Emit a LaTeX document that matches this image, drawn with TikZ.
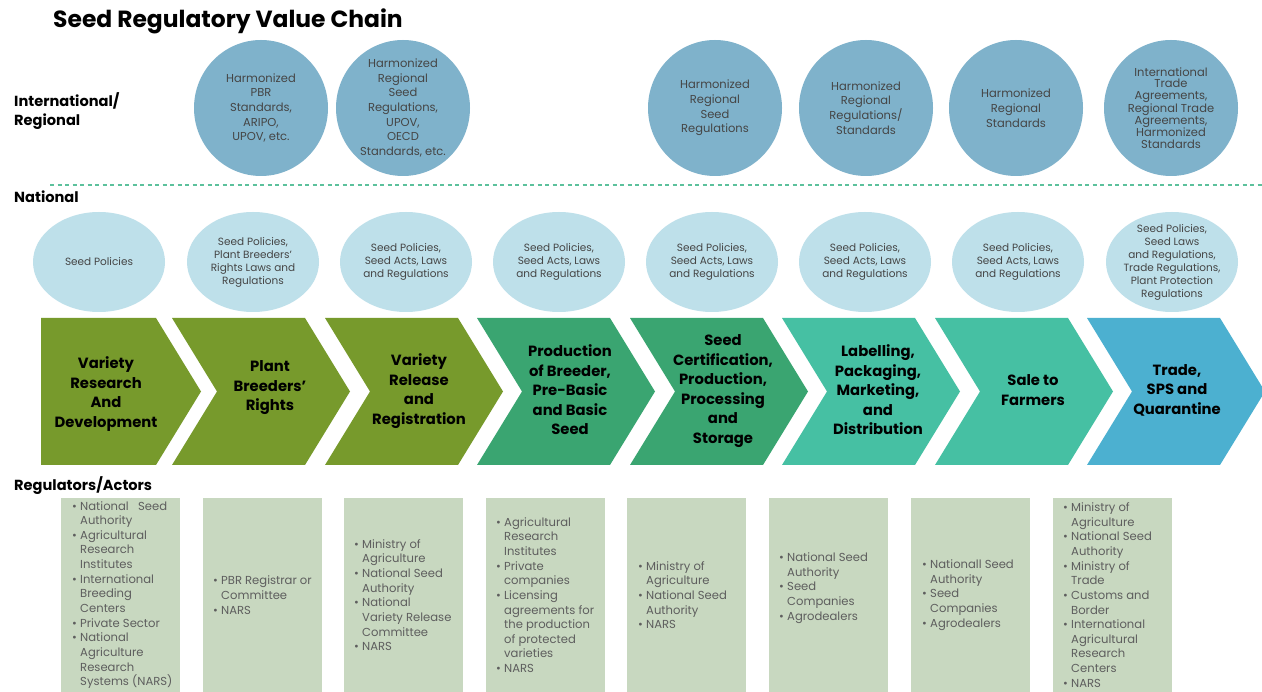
\documentclass[tikz,border=0pt]{standalone}
\usepackage{fontspec}
\setmainfont{Poppins}
\usetikzlibrary{shapes.geometric}

\definecolor{topblue}{HTML}{7FB2CB}
\definecolor{natblue}{HTML}{BEE0EA}
\definecolor{olive}{HTML}{779A2C}
\definecolor{midgreen}{HTML}{3AA571}
\definecolor{teal}{HTML}{46C0A3}
\definecolor{skyblue}{HTML}{4CB0D0}
\definecolor{sage}{HTML}{C8D8C0}
\definecolor{dashgreen}{HTML}{5CC19C}
\definecolor{circtext}{HTML}{454545}
\definecolor{boxtext}{HTML}{5E5E5E}

% bullet and continuation indent for the actor lists
\newcommand{\bulitem}{\makebox[8pt][l]{\textbullet}}
\newcommand{\contline}{\hspace*{8pt}}

\begin{document}
\begin{tikzpicture}[x=1pt,y=-1pt,
  rowlabel/.style={anchor=west,inner sep=0pt,align=left,
    font=\bfseries\fontsize{14.6}{19}\selectfont},
  topcirc/.style={ellipse,fill=topblue,minimum width=134pt,minimum height=136pt,inner sep=0pt},
  toptxt/.style={align=center,inner sep=0pt,text=circtext,
    font=\fontsize{11.5}{14.7}\selectfont},
  natcirc/.style={ellipse,fill=natblue,minimum width=132pt,minimum height=100pt,inner sep=0pt},
  nattxt/.style={align=center,inner sep=0pt,text=circtext,
    font=\fontsize{10.5}{13}\selectfont},
  chevtxt/.style={align=center,inner sep=0pt,text=black,
    font=\bfseries\fontsize{14.8}{19.5}\selectfont},
  actortxt/.style={anchor=west,align=left,inner sep=0pt,text=boxtext,
    font=\fontsize{11.6}{14.65}\selectfont}
]
\useasboundingbox (0,0) rectangle (1262,692);
\fill[white] (0,0) rectangle (1262,692);

% title and row labels
\node[anchor=west,inner sep=0pt,font=\bfseries\fontsize{23.4}{28}\selectfont] (title) at (53,21) {Seed Regulatory Value Chain};
\node[rowlabel] (lintl) at (14,111.5) {International/\\Regional};
\node[rowlabel] (lnat) at (14,197) {National};
\node[rowlabel] (lact) at (14,486) {Regulators/Actors};

% separator between international and national levels
\draw[dashgreen,line width=1.1pt,dash pattern=on 4pt off 3.5pt] (50,185) -- (1262,185);

% international / regional circles
\node[topcirc] (t1) at (261,108) {};
\node[topcirc] (t2) at (403,108) {};
\node[topcirc] (t3) at (715,108) {};
\node[topcirc] (t4) at (866,108) {};
\node[topcirc] (t5) at (1016,108) {};
\node[topcirc] (t6) at (1171,108) {};
\node[toptxt] (t1t) at (t1) {Harmonized\\PBR\\Standards,\\ARIPO,\\UPOV, etc.};
\node[toptxt] (t2t) at (t2) {Harmonized\\Regional\\Seed\\Regulations,\\UPOV,\\OECD\\Standards, etc.};
\node[toptxt] (t3t) at (t3) {Harmonized\\Regional\\Seed\\Regulations};
\node[toptxt] (t4t) at (t4) {Harmonized\\Regional\\Regulations/\\Standards};
\node[toptxt] (t5t) at (t5) {Harmonized\\Regional\\Standards};
\node[toptxt,font=\fontsize{11.5}{11.7}\selectfont] (t6t) at (t6) {International\\Trade\\Agreements,\\Regional Trade\\Agreements,\\Harmonized\\Standards};

% national circles
\node[natcirc] (n1) at (99,262) {};
\node[natcirc] (n2) at (253,262) {};
\node[natcirc] (n3) at (406,262) {};
\node[natcirc] (n4) at (559,262) {};
\node[natcirc] (n5) at (712,262) {};
\node[natcirc] (n6) at (865,262) {};
\node[natcirc] (n7) at (1018,262) {};
\node[natcirc] (n8) at (1172,262) {};
\node[nattxt] (n1t) at (n1) {Seed Policies};
\node[nattxt] (n2t) at (n2) {Seed Policies,\\Plant Breeders'\\Rights Laws and\\Regulations};
\node[nattxt] (n3t) at (n3) {Seed Policies,\\Seed Acts, Laws\\and Regulations};
\node[nattxt] (n4t) at (n4) {Seed Policies,\\Seed Acts, Laws\\and Regulations};
\node[nattxt] (n5t) at (n5) {Seed Policies,\\Seed Acts, Laws\\and Regulations};
\node[nattxt] (n6t) at (n6) {Seed Policies,\\Seed Acts, Laws\\and Regulations};
\node[nattxt] (n7t) at (n7) {Seed Policies,\\Seed Acts, Laws\\and Regulations};
\node[nattxt] (n8t) at (n8) {Seed Policies,\\Seed Laws\\and Regulations,\\Trade Regulations,\\Plant Protection\\Regulations};

% value chain chevrons
\fill[olive] (41,318) -- (156,318) -- (201,391.5) -- (156,465) -- (41,465) -- cycle;
\foreach \x/\col in {172/olive,325/olive,477/midgreen,630/midgreen,782/teal,935/teal,1087/skyblue}{
  \fill[\col] (\x,318) -- (\x+133,318) -- (\x+178,391.5) -- (\x+133,465) -- (\x,465) -- (\x+45,391.5) -- cycle;
}
\node[chevtxt] (c1) at (106,394) {Variety\\Research\\And\\Development};
\node[chevtxt] (c2) at (270,388) {Plant\\Breeders'\\Rights};
\node[chevtxt] (c3) at (419,391) {Variety\\Release\\and\\Registration};
\node[chevtxt] (c4) at (570,390) {Production\\of Breeder,\\Pre-Basic\\and Basic\\Seed};
\node[chevtxt] (c5) at (723,391) {Seed\\Certification,\\Production,\\Processing\\and\\Storage};
\node[chevtxt] (c6) at (878,390) {Labelling,\\Packaging,\\Marketing,\\and\\Distribution};
\node[chevtxt] (c7) at (1033,390) {Sale to\\Farmers};
\node[chevtxt] (c8) at (1177,390) {Trade,\\SPS and\\Quarantine};

% regulators / actors boxes
\foreach \x in {61,203,344,486,627,769,911,1053}{
  \fill[sage] (\x,498) rectangle (\x+119,692);
}
\node[actortxt] (a1) at (72,595) {\bulitem National\ \ \ Seed\\\contline Authority\\\bulitem Agricultural\\\contline Research\\\contline Institutes\\\bulitem International\\\contline Breeding\\\contline Centers\\\bulitem Private Sector\\\bulitem National\\\contline Agriculture\\\contline Research\\\contline Systems (NARS)};
\node[actortxt] (a2) at (213,595) {\bulitem PBR Registrar or\\\contline Committee\\\bulitem NARS};
\node[actortxt] (a3) at (354,595) {\bulitem Ministry of\\\contline Agriculture\\\bulitem National Seed\\\contline Authority\\\bulitem National\\\contline Variety Release\\\contline Committee\\\bulitem NARS};
\node[actortxt] (a4) at (496,595) {\bulitem Agricultural\\\contline Research\\\contline Institutes\\\bulitem Private\\\contline companies\\\bulitem Licensing\\\contline agreements for\\\contline the production\\\contline of protected\\\contline varieties\\\bulitem NARS};
\node[actortxt] (a5) at (638,595) {\bulitem Ministry of\\\contline Agriculture\\\bulitem National Seed\\\contline Authority\\\bulitem NARS};
\node[actortxt] (a6) at (779,588) {\bulitem National Seed\\\contline Authority\\\bulitem Seed\\\contline Companies\\\bulitem Agrodealers};
\node[actortxt] (a7) at (922,595) {\bulitem Nationall Seed\\\contline Authority\\\bulitem Seed\\\contline Companies\\\bulitem Agrodealers};
\node[actortxt] (a8) at (1063,595) {\bulitem Ministry of\\\contline Agriculture\\\bulitem National Seed\\\contline Authority\\\bulitem Ministry of\\\contline Trade\\\bulitem Customs and\\\contline Border\\\bulitem International\\\contline Agricultural\\\contline Research\\\contline Centers\\\bulitem NARS};
\end{tikzpicture}
\end{document}
